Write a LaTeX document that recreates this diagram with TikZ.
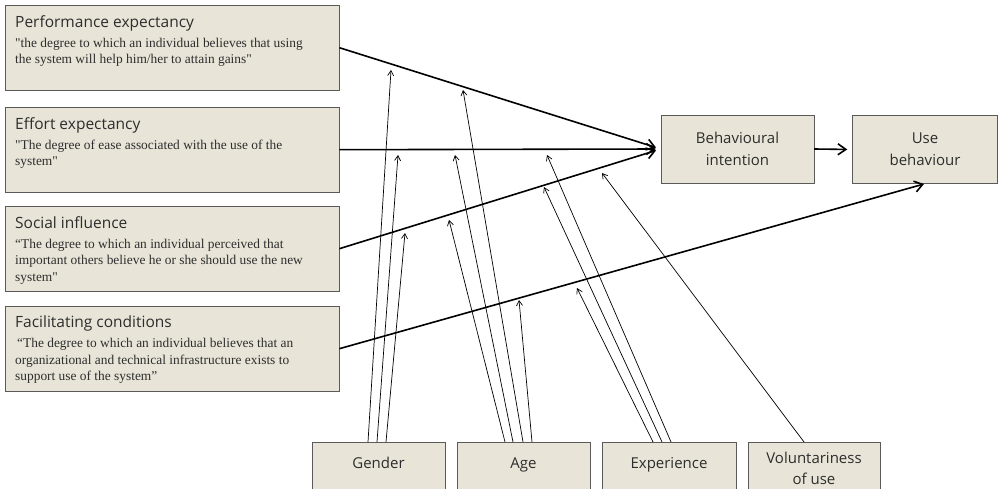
\documentclass[tikz,border=0pt]{standalone}
\usepackage{fontspec}
\setsansfont{Open Sans}
\newfontfamily\descfont{Liberation Serif}[Ligatures=TeXOff]
\usetikzlibrary{arrows.meta}

\definecolor{boxfill}{RGB}{232,229,216}
\definecolor{boxline}{RGB}{90,90,90}
\definecolor{textgray}{RGB}{45,45,45}

% title and quoted definition inside a factor box
\newcommand{\factortext}[2]{%
  \begin{minipage}[t][65pt][t]{314pt}\raggedright
    {\sffamily\fontsize{15.5}{18}\selectfont #1\par}
    \vspace{3.5pt}
    {\descfont\fontsize{13.4}{16.5}\selectfont #2\par}
  \end{minipage}}

\begin{document}
\begin{tikzpicture}[x=1pt, y=-1pt,
    factor/.style={draw=boxline, fill=boxfill, text=textgray, anchor=north west, inner xsep=10pt, inner ysep=10pt, minimum width=334pt, minimum height=85pt},
    outcome/.style={draw=boxline, fill=boxfill, text=textgray, align=center, font=\sffamily\fontsize{15}{22}\selectfont, minimum height=68pt},
    moderator/.style={draw=boxline, fill=boxfill, text=textgray, align=center, anchor=north, font=\sffamily\fontsize{15}{21}\selectfont, minimum width=133pt, minimum height=60pt, text depth=18pt},
    effect/.style={-{Straight Barb[length=8pt,width=11pt]}, line width=1.6pt, shorten >=5pt},
    moderates/.style={-{Straight Barb[length=5pt,width=6pt]}, line width=0.7pt}]

    \useasboundingbox (0,0) rectangle (998,489);

    \node[factor] (perf) at (5,5) {\factortext{Performance expectancy}{"the degree to which an individual believes that using\\the system will help him/her to attain gains"}};
    \node[factor] (effort) at (5,107) {\factortext{Effort expectancy}{"The degree of ease associated with the use of the\\system"}};
    \node[factor] (social) at (5,206) {\factortext{Social influence}{“The degree to which an individual perceived that\\important others believe he or she should use the new\\system"}};
    \node[factor] (facil) at (5,306) {\factortext{Facilitating conditions}{\hspace{2pt}“The degree to which an individual believes that an\\organizational and technical infrastructure exists to\\support use of the system”}};

    \node[outcome, minimum width=153pt] (bi) at (737.5,149) {Behavioural\\intention};
    \node[outcome, minimum width=145pt] (ub) at (925,149.5) {Use\\behaviour};

    \node[moderator] (gender) at (378.5,442) {Gender};
    \node[moderator] (age) at (523.5,442) {Age};
    \node[moderator, minimum width=134pt] (exp) at (669,442) {Experience};
    \node[moderator, minimum width=132pt, minimum height=70pt] (vol) at (814,442) {Voluntariness\\of use};

    % where the moderating arrows meet the main paths
    \coordinate (gperf) at (391,70);
    \coordinate (geff) at (398,155);
    \coordinate (gsoc) at (405,233);
    \coordinate (aperf) at (463,90);
    \coordinate (aeff) at (455,155);
    \coordinate (asoc) at (449,220);
    \coordinate (afac) at (519,300);
    \coordinate (eeff) at (547,155);
    \coordinate (esoc) at (544,187);
    \coordinate (efac) at (577,288);
    \coordinate (vsoc) at (602,173);

    \draw[effect] (perf.east) -- (bi.west);
    \draw[effect] (effort.east) -- (bi.west);
    \draw[effect] (social.east) -- (bi.west);
    \draw[effect] (bi.east) -- (ub.west);
    \draw[effect, shorten >=1pt] (facil.east) -- (ub.south);

    \draw[moderates] ([xshift=-10.5pt]gender.north) -- (gperf);
    \draw[moderates] ([xshift=-1.5pt]gender.north) -- (geff);
    \draw[moderates] ([xshift=7.5pt]gender.north) -- (gsoc);

    \draw[moderates] ([xshift=-18.5pt]age.north) -- (asoc);
    \draw[moderates] ([xshift=-10.5pt]age.north) -- (aeff);
    \draw[moderates] ([xshift=-0.5pt]age.north) -- (aperf);
    \draw[moderates] ([xshift=8.5pt]age.north) -- (afac);

    \draw[moderates] ([xshift=-16pt]exp.north) -- (efac);
    \draw[moderates] ([xshift=-7pt]exp.north) -- (esoc);
    \draw[moderates] ([xshift=2pt]exp.north) -- (eeff);

    \draw[moderates] ([xshift=-10pt]vol.north) -- (vsoc);
\end{tikzpicture}
\end{document}
